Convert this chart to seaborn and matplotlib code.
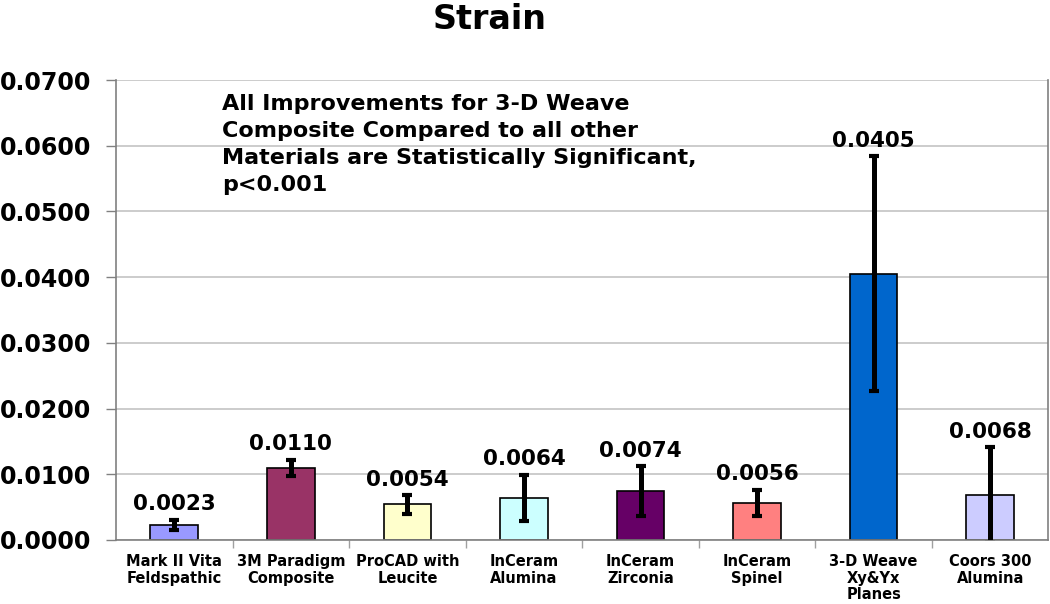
import pandas as pd
import matplotlib
matplotlib.use("Agg")
import matplotlib.pyplot as plt
import matplotlib.ticker as mticker
import seaborn as sns

materials = [
    "Mark II Vita\nFeldspathic",
    "3M Paradigm\nComposite",
    "ProCAD with\nLeucite",
    "InCeram\nAlumina",
    "InCeram\nZirconia",
    "InCeram\nSpinel",
    "3-D Weave\nXy&Yx\nPlanes",
    "Coors 300\nAlumina",
]
strain = [0.0023, 0.0110, 0.0054, 0.0064, 0.0074, 0.0056, 0.0405, 0.0068]
strain_err = [0.0008, 0.0012, 0.0014, 0.0035, 0.0038, 0.0020, 0.0179, 0.0073]
bar_colors = ["#9999FF", "#993366", "#FFFFCC", "#CCFFFF",
              "#660066", "#FF8080", "#0066CC", "#CCCCFF"]
note = ("All Improvements for 3-D Weave\n"
        "Composite Compared to all other\n"
        "Materials are Statistically Significant,\n"
        "p<0.001")

sns.set_theme(style="white")
plt.rcParams["font.family"] = ["DejaVu Sans"]
plt.rcParams["font.weight"] = "bold"
plt.rcParams["text.color"] = "black"
plt.rcParams["xtick.color"] = "black"
plt.rcParams["ytick.color"] = "black"

df = pd.DataFrame({"Material": materials, "Strain": strain})

fig = plt.figure(figsize=(10.5, 6.04), dpi=100)
ax = fig.add_axes([0.1105, 0.106, 0.888, 0.7615])

sns.barplot(data=df, x="Material", y="Strain", hue="Material",
            palette=dict(zip(materials, bar_colors)), legend=False, saturation=1,
            width=0.41, edgecolor="black", linewidth=1.2, ax=ax)
ax.errorbar(range(len(materials)), strain, yerr=strain_err, fmt="none",
            ecolor="black", elinewidth=3.6, capsize=3.5, capthick=3, zorder=5)

for i, (v, e) in enumerate(zip(strain, strain_err)):
    ax.annotate(f"{v:.4f}", (i, v + e), xytext=(0, 4), textcoords="offset points",
                ha="center", va="bottom", fontsize=15.5, fontweight="bold")

ax.set_ylim(0, 0.07)
ax.set_xlim(-0.5, len(materials) - 0.5)
ax.yaxis.set_major_locator(mticker.MultipleLocator(0.01))
ax.yaxis.set_major_formatter(mticker.FormatStrFormatter("%.4f"))
ax.grid(axis="y", color="#c4c4c4", linewidth=1.2)
ax.set_axisbelow(True)
ax.tick_params(axis="y", labelsize=17, length=7, width=1, color="#808080",
               left=True, pad=11)
ax.tick_params(axis="x", which="major", labelsize=10.5, length=0, pad=10)
ax.xaxis.set_minor_locator(mticker.FixedLocator([i + 0.5 for i in range(len(materials) - 1)]))
ax.tick_params(axis="x", which="minor", length=6, width=1, color="#a0a0a0", bottom=True)
for lbl in ax.get_yticklabels() + ax.get_xticklabels():
    lbl.set_fontweight("bold")
for lbl in ax.get_xticklabels():
    lbl.set_linespacing(1.15)
ax.set_xlabel("")
ax.set_ylabel("")
for side in ["left", "bottom", "right"]:
    ax.spines[side].set_color("#808080")
    ax.spines[side].set_linewidth(1.2)
ax.spines["top"].set_visible(False)

ax.text(0.114, 0.97, note, transform=ax.transAxes, fontsize=16,
        fontweight="bold", va="top", ha="left", linespacing=1.45)

fig.text(0.466, 0.952, "Strain", ha="center", va="baseline",
         fontsize=24, fontweight="bold")

fig.savefig("out.png", dpi=100)
